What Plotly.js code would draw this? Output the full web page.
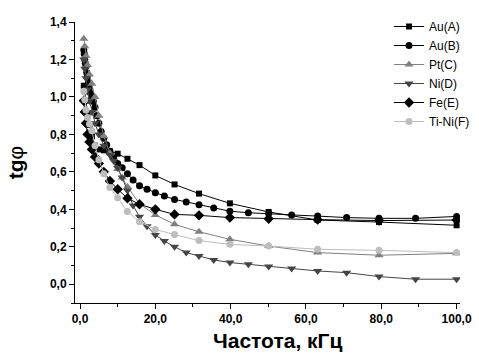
<!DOCTYPE html>
<html><head><meta charset="utf-8">
<script src="https://cdn.plot.ly/plotly-3.0.1.min.js"></script>
<style>html,body{margin:0;padding:0;background:#fff}#c{width:479px;height:354px}</style>
</head><body><div id="c"></div>
<script>
const names = ["Au(A)","Au(B)","Pt(C)","Ni(D)","Fe(E)","Ti-Ni(F)"];

const xA = [1.0,1.26,1.58,2.0,2.51,3.16,3.98,5.01,6.31,7.94,10,12.6,15.8,20,25.1,31.6,39.8,50.1,63.1,79.4,100];
const yA = [1.06,1.03,0.98,0.91,0.85,0.79,0.74,0.72,0.715,0.71,0.697,0.67,0.636,0.581,0.533,0.484,0.432,0.386,0.343,0.332,0.315];

const xB = [1.0,1.12,1.26,1.41,1.58,1.78,2.0,2.24,2.51,2.82,3.16,3.55,3.98,4.47,5.01,5.62,6.31,7.08,7.94,8.91,10,11.2,12.6,14.1,15.8,17.8,20,22.4,25.1,28.2,31.6,35.5,39.8,44.7,50.1,56.2,63.1,70.8,79.4,89.1,100];
const yB = [1.25,1.23,1.2,1.18,1.16,1.13,1.11,1.08,1.05,1.02,1.0,0.975,0.945,0.9,0.86,0.815,0.78,0.745,0.71,0.675,0.645,0.622,0.59,0.556,0.526,0.507,0.489,0.471,0.453,0.439,0.424,0.407,0.39,0.382,0.378,0.37,0.364,0.356,0.352,0.352,0.362];

const xC = [1.0,1.26,1.58,2.0,2.51,3.16,3.98,5.01,6.31,7.94,10,11.2,12.6,15.8,20,25.1,31.6,39.8,50.1,63.1,79.4,100];
const yC = [1.31,1.27,1.22,1.17,1.12,1.07,1.0,0.9,0.79,0.7,0.615,0.57,0.52,0.43,0.37,0.32,0.28,0.24,0.204,0.169,0.155,0.165];

const xD = [1.0,1.26,1.58,2.0,2.51,3.16,3.98,5.01,6.31,7.94,8.91,10,11.2,12.6,14.1,15.8,17.8,20,22.4,25.1,28.2,31.6,35.5,39.8,44.7,50.1,56.2,63.1,70.8,79.4,89.1,100];
const yD = [1.2,1.15,1.1,1.04,0.98,0.92,0.86,0.8,0.74,0.69,0.66,0.62,0.57,0.5,0.42,0.36,0.31,0.263,0.231,0.2,0.169,0.151,0.13,0.116,0.107,0.095,0.084,0.071,0.062,0.041,0.027,0.027];

const xE = [1.0,1.26,1.58,2.0,2.51,3.16,3.98,5.01,6.31,7.94,10,12.6,15.8,20,25.1,31.6,39.8,50.1,63.1,79.4,100];
const yE = [0.98,0.92,0.86,0.8,0.76,0.72,0.68,0.645,0.6,0.551,0.507,0.459,0.427,0.4,0.373,0.368,0.356,0.35,0.345,0.34,0.343];

const xF = [1.0,1.26,1.58,2.0,2.51,3.16,3.98,5.01,6.31,7.94,10,12.6,15.8,20,25.1,31.6,39.8,50.1,63.1,79.4,100];
const yF = [1.03,0.985,0.93,0.89,0.855,0.82,0.74,0.665,0.59,0.516,0.462,0.388,0.334,0.293,0.265,0.233,0.213,0.204,0.187,0.181,0.169];

const xs = [xA,xB,xC,xD,xE,xF];
const ys = [yA,yB,yC,yD,yE,yF];
const colors = ["#000000","#000000","#808080","#454545","#000000","#bdbdbd"];
const symbols = ["square","circle","triangle-up","triangle-down","diamond","circle"];
const sizes = [6,7,8,8,8,7];

const traces = names.map((n,i)=>({
  type:"scatter", mode:"lines+markers", name:n, x:xs[i], y:ys[i],
  line:{color:colors[i], width:1},
  marker:{symbol:symbols[i], size:sizes[i], color:colors[i]}
}));

const ff = "Liberation Sans, Arial, sans-serif";
const layout = {
  width:479, height:354,
  margin:{l:75, r:19, t:22, b:51, autoexpand:false},
  paper_bgcolor:"#fff", plot_bgcolor:"#fff",
  separators:", ",
  showlegend:true,
  legend:{xref:"container", yref:"container", x:389/479, y:1-12/354, xanchor:"left", yanchor:"top", bgcolor:"rgba(0,0,0,0)",
    font:{family:ff, size:12, color:"#000"}, tracegroupgap:0, itemwidth:30},
  annotations:[{xref:"paper", yref:"paper", x:(277-75)/385, y:-(340-303)/281, xanchor:"center", yanchor:"middle",
    showarrow:false, text:"<b>Частота, кГц</b>", font:{family:ff, size:21, color:"#000"}}],
  xaxis:{range:[-1.33,100.9], showline:true, linecolor:"#000", linewidth:1, mirror:false,
    showgrid:false, zeroline:false, ticks:"outside", ticklen:5, tickcolor:"#000",
    tick0:0, dtick:20, tickformat:".1f",
    tickfont:{family:ff, size:12, color:"#000", weight:"bold"},
    minor:{ticks:"outside", ticklen:3, dtick:10, tick0:0, tickcolor:"#000", showgrid:false}},
  yaxis:{range:[-0.1,1.4], showline:true, linecolor:"#000", linewidth:1, mirror:false,
    showgrid:false, zeroline:false, ticks:"outside", ticklen:5, tickcolor:"#000",
    tick0:0, dtick:0.2, tickformat:".1f",
    tickfont:{family:ff, size:12, color:"#000", weight:"bold"},
    minor:{ticks:"outside", ticklen:3, dtick:0.1, tick0:0, tickcolor:"#000", showgrid:false},
    title:{text:"<b>tg</b>φ", font:{family:ff, size:21, color:"#000"}, standoff:20}}
};
Plotly.newPlot("c", traces, layout, {displayModeBar:false, staticPlot:true});
</script></body></html>
